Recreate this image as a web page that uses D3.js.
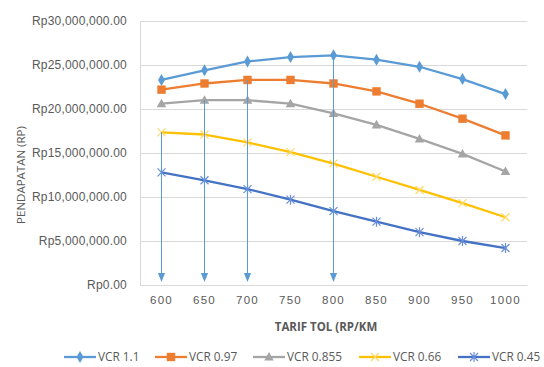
<!DOCTYPE html>
<html><head><meta charset="utf-8">
<script src="https://cdn.jsdelivr.net/npm/d3@7"></script>
<style>
html,body{margin:0;padding:0;background:#fff;}
svg{display:block;font-family:"Open Sans",sans-serif;}
</style></head>
<body><svg id="c" width="544" height="367"></svg>
<script>
const tarif = [600, 650, 700, 750, 800, 850, 900, 950, 1000];
const vcr11  = [23.3, 24.4, 25.4, 25.9, 26.1, 25.6, 24.8, 23.4, 21.7];
const vcr097 = [22.2, 22.9, 23.3, 23.3, 22.9, 22.0, 20.6, 18.9, 17.0];
const vcr0855 = [20.6, 21.0, 21.0, 20.6, 19.5, 18.2, 16.6, 14.9, 12.9];
const vcr066 = [17.35, 17.1, 16.2, 15.1, 13.8, 12.3, 10.8, 9.3, 7.7];
const vcr045 = [12.8, 11.9, 10.9, 9.7, 8.4, 7.2, 6.0, 5.0, 4.2];
const seriesNames = ["VCR 1.1", "VCR 0.97", "VCR 0.855", "VCR 0.66", "VCR 0.45"];
const seriesColors = ["#5B9BD5", "#ED7D31", "#A5A5A5", "#FFC000", "#4472C4"];
const seriesMarkers = ["diamond", "square", "triangle", "x", "star"];
const yTicks = [0, 5, 10, 15, 20, 25, 30];
const arrowTarif = [600, 650, 700, 800];
const arrowFrom = [17.35, 21.0, 23.3, 26.1];
const arrowTo = 0.35;

const seriesValues = [vcr11, vcr097, vcr0855, vcr066, vcr045];
const svg = d3.select("#c");
const L = 140, R = 527, T = 21, B = 285;
const x = d3.scaleBand().domain(tarif).range([L, R]);
const y = d3.scaleLinear().domain([0, 30]).range([B, T]);
const cx = v => x(v) + x.bandwidth() / 2;
const txt = "#595959";
const fmt = v => "Rp" + d3.format(",.2f")(v * 1e6);

// grid
const yAxis = d3.axisLeft(y).tickValues(yTicks).tickSize(-(R - L)).tickFormat(fmt).tickPadding(13);
const gy = svg.append("g").attr("transform", `translate(${L},0)`).call(yAxis);
gy.select(".domain").attr("stroke", "#D9D9D9");
gy.selectAll(".tick line").attr("stroke", "#D9D9D9");
gy.selectAll(".tick text").attr("fill", txt).attr("font-size", "12px").attr("letter-spacing", "0.2px");

const xAxis = d3.axisBottom(x).tickSize(0).tickPadding(11);
const gx = svg.append("g").attr("transform", `translate(0,${B})`).call(xAxis);
gx.select(".domain").attr("stroke", "#D9D9D9");
gx.selectAll(".tick text").attr("fill", txt).attr("font-size", "11.5px").attr("letter-spacing", "1.3px");

// axis titles
svg.append("text").attr("x", 326).attr("y", 331).attr("text-anchor", "middle")
  .attr("fill", txt).attr("font-size", "11.5px").attr("font-weight", "bold").text("TARIF TOL (RP/KM");
svg.append("text").attr("transform", "translate(25,175) rotate(-90)").attr("text-anchor", "middle")
  .attr("fill", txt).attr("font-size", "11.5px").text("PENDAPATAN (RP)");

function marker(g, type, color, px, py) {
  if (type === "diamond") {
    g.append("path").attr("d", d3.symbol(d3.symbolDiamond, 42)()).attr("transform", `translate(${px},${py})`).attr("fill", color);
  } else if (type === "square") {
    g.append("rect").attr("x", px - 4.2).attr("y", py - 4.2).attr("width", 8.4).attr("height", 8.4).attr("fill", color);
  } else if (type === "triangle") {
    g.append("path").attr("d", `M${px},${py - 5}L${px + 4.8},${py + 3.6}L${px - 4.8},${py + 3.6}Z`).attr("fill", color);
  } else if (type === "x") {
    g.append("path").attr("d", `M${px - 4},${py - 4}L${px + 4},${py + 4}M${px - 4},${py + 4}L${px + 4},${py - 4}`)
      .attr("stroke", "#FFD966").attr("stroke-width", 1.2).attr("fill", "none");
  } else if (type === "star") {
    g.append("path").attr("d", `M${px - 4},${py - 4}L${px + 4},${py + 4}M${px - 4},${py + 4}L${px + 4},${py - 4}M${px},${py - 5}L${px},${py + 5}`)
      .attr("stroke", "#6A8FD8").attr("stroke-width", 1.2).attr("fill", "none");
  }
}

const line = d3.line().x((d, i) => cx(tarif[i])).y(d => y(d));
seriesValues.forEach((vals, si) => {
  const g = svg.append("g");
  g.append("path").datum(vals).attr("d", line).attr("fill", "none")
    .attr("stroke", seriesColors[si]).attr("stroke-width", 2.3).attr("stroke-linejoin", "round");
  vals.forEach((v, i) => marker(g, seriesMarkers[si], seriesColors[si], cx(tarif[i]), y(v)));
});

// arrows
const ga = svg.append("g");
arrowTarif.forEach((t, i) => {
  const px = cx(t);
  const tip = y(arrowTo);
  ga.append("line").attr("x1", px).attr("x2", px).attr("y1", y(arrowFrom[i])).attr("y2", tip - 8)
    .attr("stroke", "#5B9BD5").attr("stroke-width", 1);
  ga.append("path").attr("d", `M${px - 3.6},${tip - 9}L${px + 3.6},${tip - 9}L${px},${tip}Z`).attr("fill", "#5B9BD5");
});

// legend
const legX = [64, 155, 253, 359, 458];
seriesNames.forEach((n, i) => {
  const g = svg.append("g");
  const x0 = legX[i], ly = 357;
  g.append("line").attr("x1", x0).attr("x2", x0 + 32).attr("y1", ly).attr("y2", ly)
    .attr("stroke", seriesColors[i]).attr("stroke-width", 2.3);
  marker(g, seriesMarkers[i], seriesColors[i], x0 + 16, ly);
  g.append("text").attr("x", x0 + 34).attr("y", ly + 4).attr("fill", txt).attr("font-size", "11.8px").text(n);
});
</script></body></html>
